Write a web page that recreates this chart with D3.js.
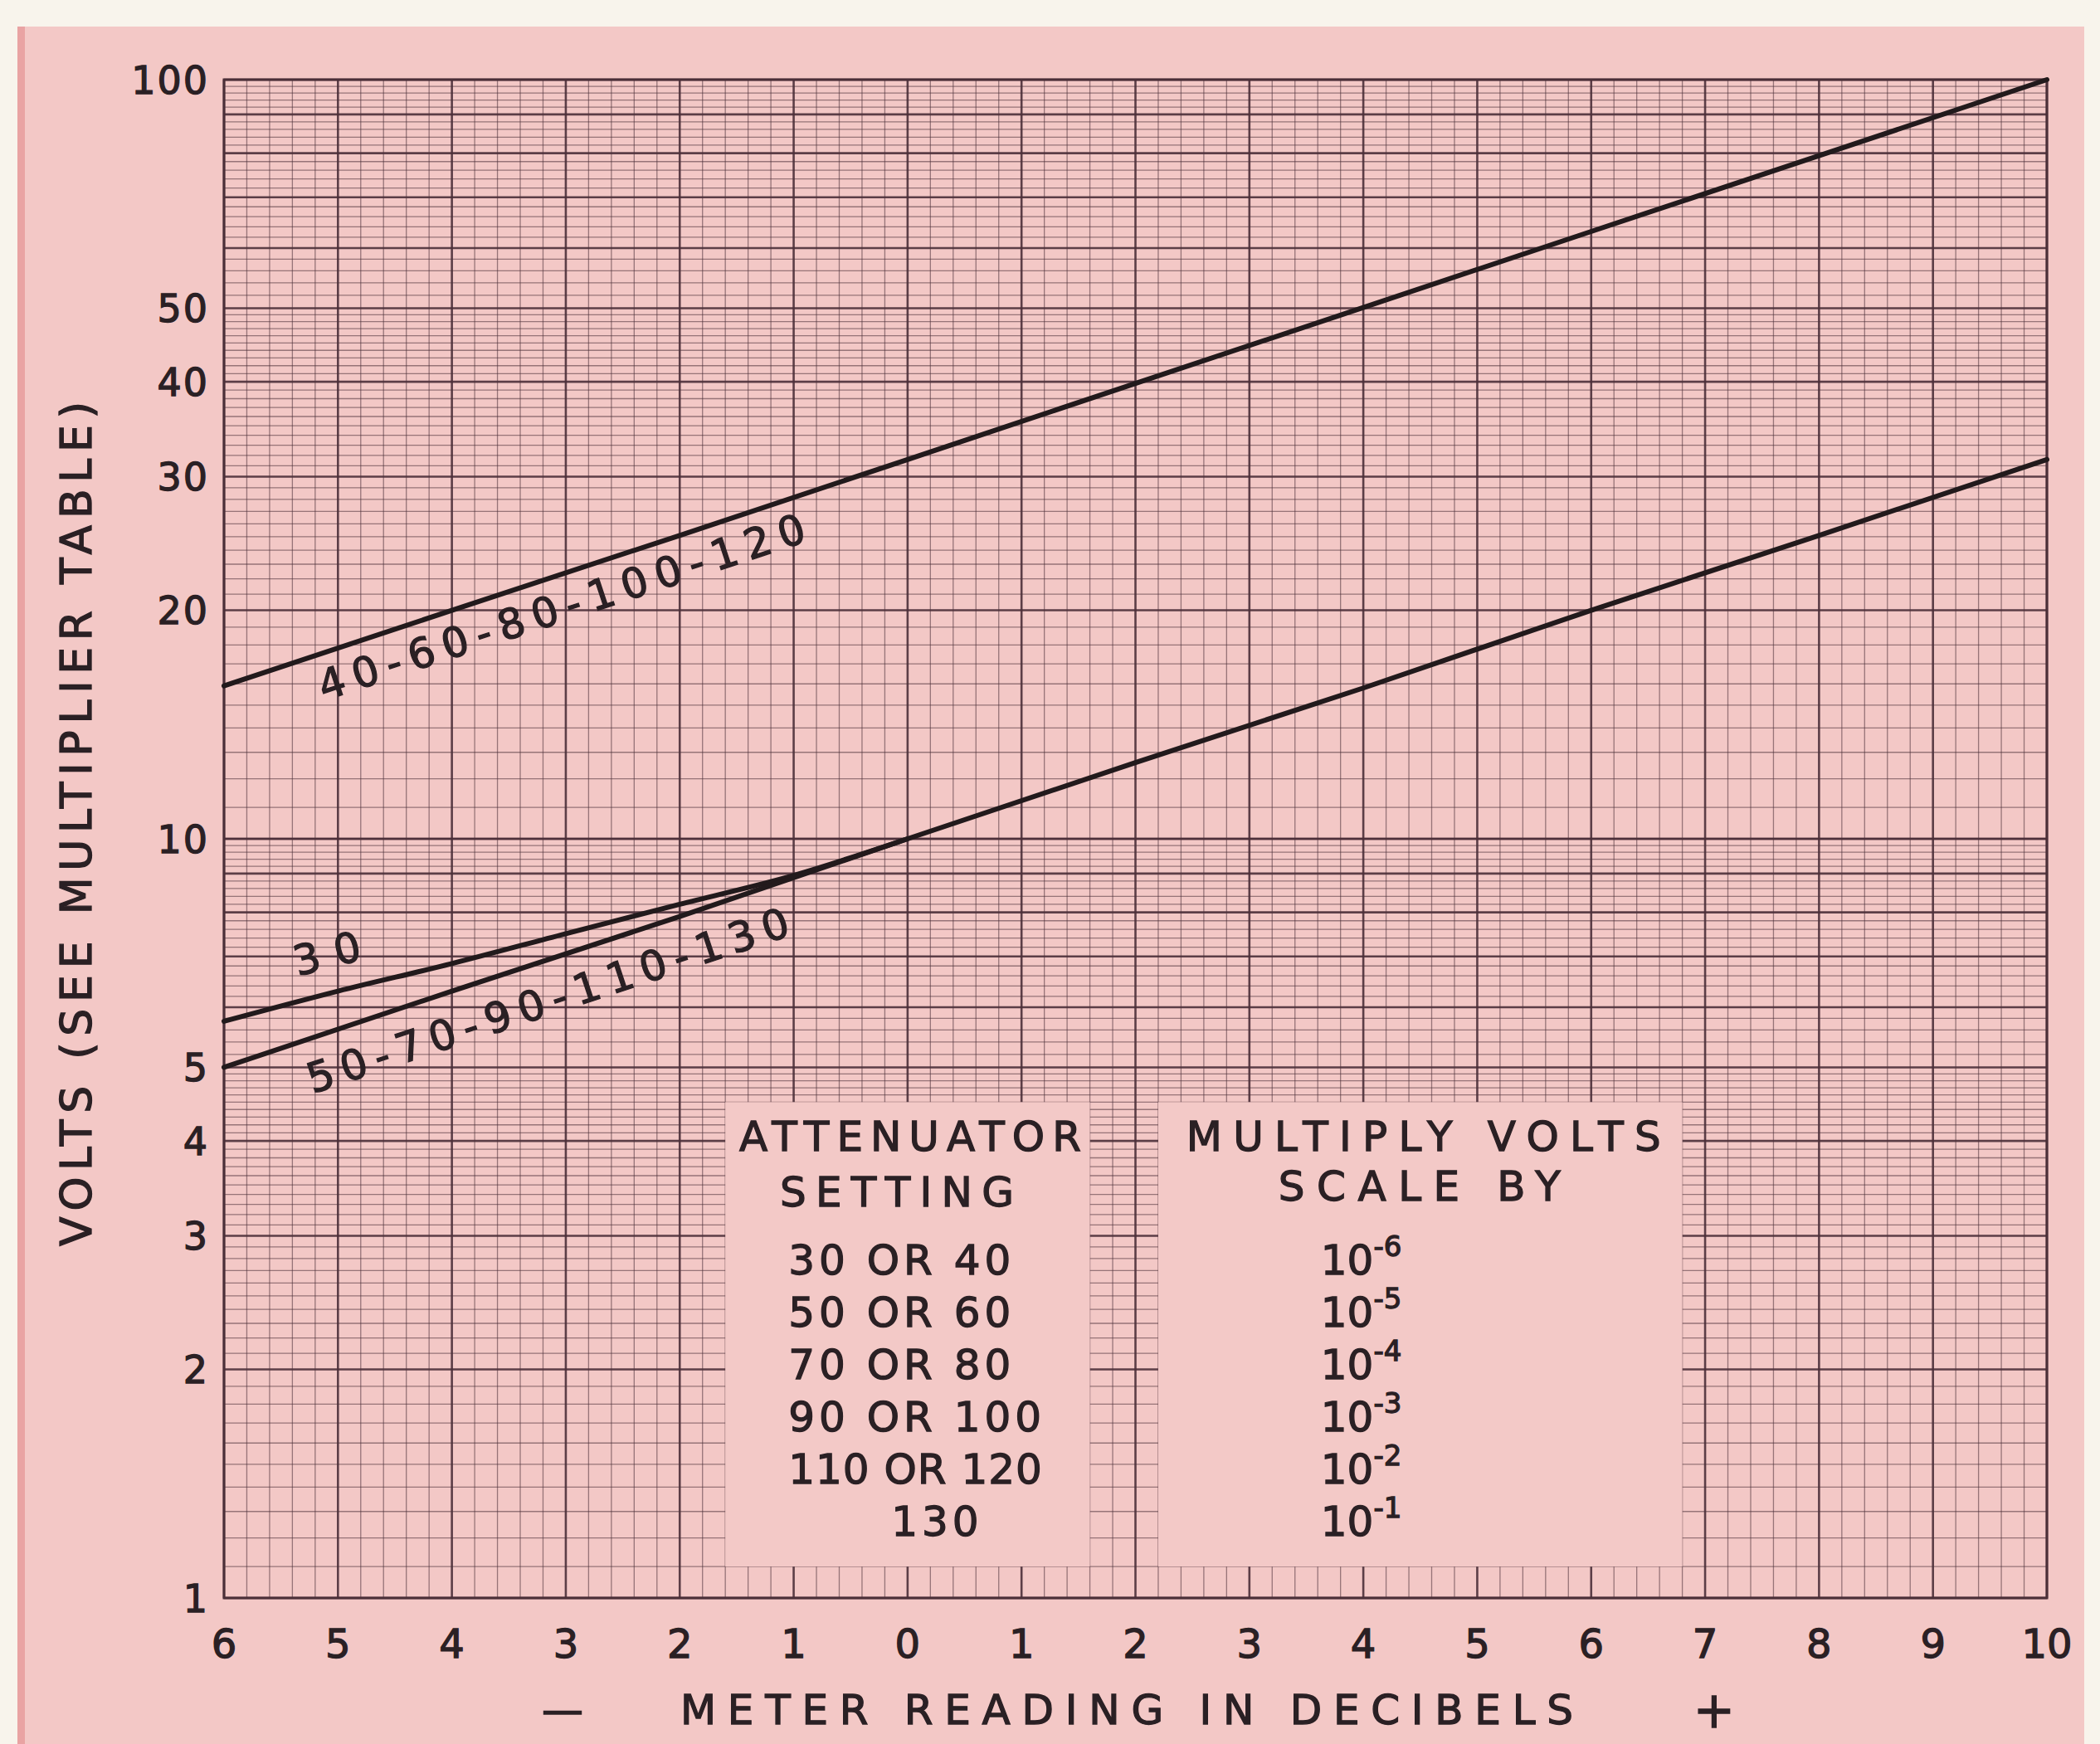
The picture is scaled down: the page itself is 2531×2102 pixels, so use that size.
<!DOCTYPE html>
<html>
<head>
<meta charset="utf-8">
<script src="https://cdn.jsdelivr.net/npm/d3@7"></script>
<style>
  body { margin: 0; background: #f8f4ec; }
  svg { display: block; }
  text { font-family: "DejaVu Sans", sans-serif; fill: #2a2024; stroke: #2a2024; stroke-width: 1.3px; }
</style>
</head>
<body>
<svg></svg>
<script>
// tick values
let dbTicks = [-6, -5, -4, -3, -2, -1, 0, 1, 2, 3, 4, 5, 6, 7, 8, 9, 10]
let voltTicks = [1, 2, 3, 4, 5, 10, 20, 30, 40, 50, 100]

// curves (dB, volts)
let upperDb = [-6, -4, -2, 0, 2, 4, 6, 8, 10]
let upperVolts = [15.9, 20, 25.1, 31.6, 39.8, 50.1, 63.1, 79.4, 100]

let lowerDb = [-6, -4, -2, 0, 2, 4, 6, 8, 10]
let lowerVolts = [5.0, 6.3, 7.9, 10, 12.6, 15.8, 20, 25.1, 31.6]

let thirtyDb = [-6, -5, -4, -3, -2, -1, 0]
let thirtyVolts = [5.75, 6.3, 6.85, 7.5, 8.2, 8.95, 10]

let curveNames = ["40-60-80-100-120", "30", "50-70-90-110-130"]

// multiplier table
let attenuatorRows = ["30 OR 40", "50 OR 60", "70 OR 80", "90 OR 100", "110 OR 120", "130"]
let multiplierExps = ["-6", "-5", "-4", "-3", "-2", "-1"]

let width = 2531
let height = 2102

let svg = d3.select('svg')
    .attr("width", width)
    .attr("height", height)

let xScale = d3.scaleLinear().domain([-6, 10]).range([270, 2467])
let yScale = d3.scaleLog().domain([1, 100]).range([1926, 96])

let gridInk = "#4b2f38"

// paper
svg.append("rect").attr("width", width).attr("height", height).attr("fill", "#f8f4ec")
svg.append("rect")
    .attr("x", 21).attr("y", 32)
    .attr("width", 2491).attr("height", height)
    .attr("fill", "#f3c8c6")
svg.append("rect")
    .attr("x", 21).attr("y", 32)
    .attr("width", 9).attr("height", height)
    .attr("fill", "#e9a3a3")

// grid
let drawGrid = () => {
    let g = svg.append("g")

    let vLines = d3.range(0, 81).map(i => -6 + i * 0.2)
    g.selectAll(".vgrid")
        .data(vLines)
        .enter()
        .append("line")
        .attr("x1", d => xScale(d)).attr("x2", d => xScale(d))
        .attr("y1", yScale(1)).attr("y2", yScale(100))
        .attr("stroke", gridInk)
        .attr("stroke-width", (d, i) => i % 5 == 0 ? 2.6 : 1.3)
        .attr("stroke-opacity", (d, i) => i % 5 == 0 ? 0.9 : 0.55)

    let hLines = []
    ;[1, 10].forEach(base => {
        for (let k = 10; k < 50; k++) hLines.push({ v: base * k / 10, major: k % 10 == 0 })
        for (let k = 25; k <= 50; k++) hLines.push({ v: base * k / 5, major: k % 5 == 0 })
    })

    g.selectAll(".hgrid")
        .data(hLines)
        .enter()
        .append("line")
        .attr("x1", xScale(-6)).attr("x2", xScale(10))
        .attr("y1", d => yScale(d.v)).attr("y2", d => yScale(d.v))
        .attr("stroke", gridInk)
        .attr("stroke-width", d => d.major ? 2.6 : 1.3)
        .attr("stroke-opacity", d => d.major ? 0.9 : 0.55)

    g.append("rect")
        .attr("x", xScale(-6)).attr("y", yScale(100))
        .attr("width", xScale(10) - xScale(-6))
        .attr("height", yScale(1) - yScale(100))
        .attr("fill", "none")
        .attr("stroke", gridInk)
        .attr("stroke-width", 3)
}

let drawAxes = () => {
    svg.append("g")
        .selectAll("text")
        .data(dbTicks)
        .enter()
        .append("text")
        .attr("x", d => xScale(d))
        .attr("y", yScale(1) + 72)
        .attr("text-anchor", "middle")
        .attr("font-size", 48)
        .text(d => Math.abs(d))

    svg.append("g")
        .selectAll("text")
        .data(voltTicks)
        .enter()
        .append("text")
        .attr("x", 252)
        .attr("y", d => yScale(d))
        .attr("dy", "0.36em")
        .attr("text-anchor", "end")
        .attr("font-size", 46)
        .attr("letter-spacing", 2)
        .text(d => d)

    let xTitle = svg.append("g").attr("font-size", 50)
    xTitle.append("text").attr("x", 678).attr("y", 2078).attr("text-anchor", "middle").text("—")
    xTitle.append("text").attr("x", 820).attr("y", 2078)
        .attr("textLength", 1076).attr("lengthAdjust", "spacing")
        .text("METER READING IN DECIBELS")
    xTitle.append("text").attr("x", 2066).attr("y", 2082).attr("text-anchor", "middle")
        .attr("font-size", 60).text("+")

    svg.append("text")
        .attr("transform", "translate(110," + 1502 + ") rotate(-90)")
        .attr("font-size", 52)
        .attr("textLength", 1018).attr("lengthAdjust", "spacing")
        .text("VOLTS (SEE MULTIPLIER TABLE)")
}

let drawTable = () => {
    let top = yScale(4.5), bottom = yScale(1.1)
    let boxes = [[-1.6, 1.6], [2.2, 6.8]]
    svg.append("g")
        .selectAll("rect")
        .data(boxes)
        .enter()
        .append("rect")
        .attr("x", d => xScale(d[0]))
        .attr("y", top)
        .attr("width", d => xScale(d[1]) - xScale(d[0]))
        .attr("height", bottom - top)
        .attr("fill", "#f3c9c7")

    let leftX = xScale(-1.6)
    let midL = xScale(0)
    let midR = xScale(4.5)
    let t = svg.append("g").attr("font-size", 50)

    t.append("text").attr("x", midL + 3).attr("y", 1387).attr("text-anchor", "middle")
        .attr("textLength", 412).attr("lengthAdjust", "spacing").text("ATTENUATOR")
    t.append("text").attr("x", midL - 13).attr("y", 1454).attr("text-anchor", "middle")
        .attr("textLength", 282).attr("lengthAdjust", "spacing").text("SETTING")

    t.selectAll(".row")
        .data(attenuatorRows)
        .enter()
        .append("text")
        .attr("x", (d, i) => i == 5 ? leftX + 200 : leftX + 76)
        .attr("y", (d, i) => 1536 + i * 63)
        .attr("letter-spacing", (d, i) => i == 4 ? 1 : 5)
        .text(d => d)

    t.append("text").attr("x", midR + 4).attr("y", 1387).attr("text-anchor", "middle")
        .attr("textLength", 572).attr("lengthAdjust", "spacing").text("MULTIPLY VOLTS")
    t.append("text").attr("x", midR - 1).attr("y", 1447).attr("text-anchor", "middle")
        .attr("textLength", 340).attr("lengthAdjust", "spacing").text("SCALE BY")

    let exps = t.selectAll(".exp")
        .data(multiplierExps)
        .enter()
        .append("text")
        .attr("x", xScale(4.5) - 120)
        .attr("y", (d, i) => 1536 + i * 63)
    exps.append("tspan").text("10")
    exps.append("tspan").attr("font-size", 34).attr("dy", -22).text(d => d)
}

let drawCurves = () => {
    let line = d3.line()
        .x(d => xScale(d[0]))
        .y(d => yScale(d[1]))

    let series = [
        { db: upperDb, v: upperVolts, curve: d3.curveLinear },
        { db: thirtyDb, v: thirtyVolts, curve: d3.curveMonotoneX },
        { db: lowerDb, v: lowerVolts, curve: d3.curveLinear }
    ]

    svg.append("g")
        .selectAll("path")
        .data(series)
        .enter()
        .append("path")
        .attr("d", s => line.curve(s.curve)(s.db.map((d, i) => [d, s.v[i]])))
        .attr("fill", "none")
        .attr("stroke", "#221a1c")
        .attr("stroke-width", 6)
        .attr("stroke-linecap", "round")

    // labels sit along each line, starting at a dB value, offset across the line
    let labelSpec = [
        { s: series[0], at: -5.25, off: 55, len: 615 },
        { s: series[1], at: -5.3, off: -30, len: 82 },
        { s: series[2], at: -5.37, off: 64, len: 609 }
    ]

    labelSpec.forEach((l, i) => {
        let px = d3.scaleLinear().domain(l.s.db).range(l.s.db.map(d => xScale(d)))
        let py = d3.scaleLinear().domain(l.s.db).range(l.s.v.map(v => yScale(v)))
        let d0 = l.at, d1 = l.at + 2.5
        let angle = Math.atan2(py(d1) - py(d0), px(d1) - px(d0)) * 180 / Math.PI
        svg.append("text")
            .attr("transform", "translate(" + px(d0) + "," + py(d0) + ") rotate(" + angle + ")")
            .attr("y", l.off)
            .attr("font-size", 50)
            .attr("textLength", l.len).attr("lengthAdjust", "spacing")
            .text(curveNames[i])
    })
}

drawGrid()
drawTable()
drawCurves()
drawAxes()
</script>
</body>
</html>
